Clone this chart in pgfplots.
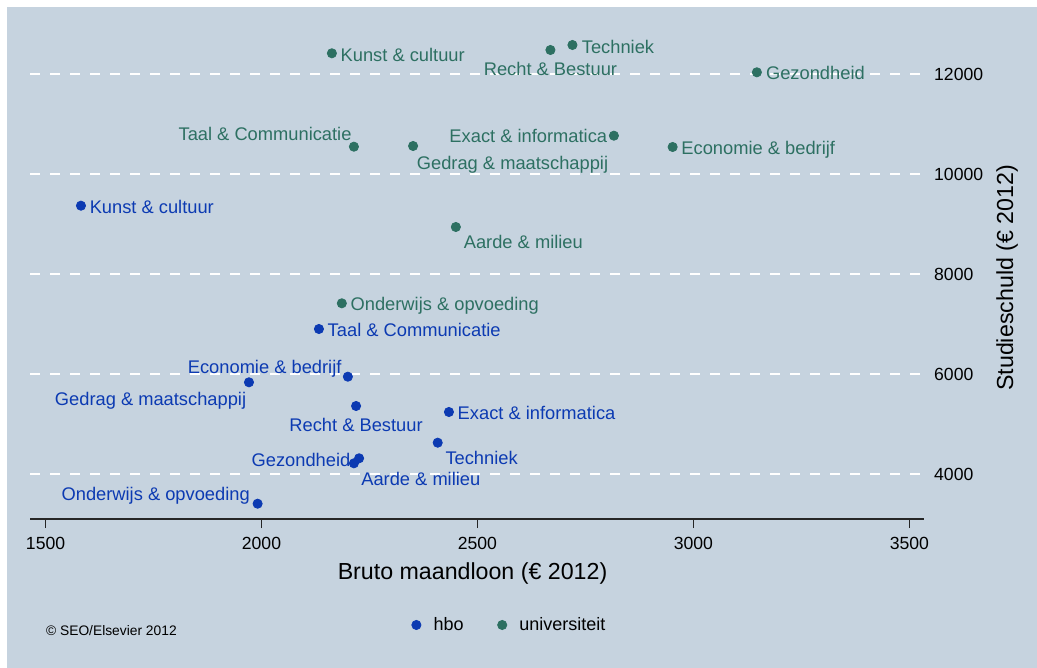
\documentclass[border=0pt]{standalone}
\usepackage{pgfplots}
\pgfplotsset{compat=1.18}
\usepackage{fontspec}
\setmainfont{Liberation Sans}
\definecolor{bg}{RGB}{198,211,223}
\definecolor{hbo}{RGB}{12,58,178}
\definecolor{uni}{RGB}{45,112,98}

\pgfplotsset{
  pt/.style={forget plot, only marks, mark=*, mark size=2.3pt, color=#1,
    mark options={draw=#1, fill=#1},
    every node near coord/.append style={text=#1, inner sep=0pt, font=\fontsize{9.15}{11}\selectfont}},
  lab/.style n args={4}{nodes near coords={#4},
    every node near coord/.append style={anchor=#1, xshift=#2pt, yshift=#3pt}},
}

\begin{document}
\begin{tikzpicture}
\fill[white] (-15pt,-74.5pt) rectangle (503.5pt,259.5pt);
\fill[bg] (-11.5pt,-74.5pt) rectangle (503.5pt,256pt);
\begin{axis}[
  at={(0pt,0pt)}, anchor=south west,
  scale only axis, width=447pt, height=245pt,
  xmin=1464, xmax=3534, ymin=3100, ymax=12900,
  scaled ticks=false,
  axis x line*=bottom, axis y line*=right,
  y axis line style={draw=none},
  x axis line style={black!85, line width=0.7pt},
  xtick={1500,2000,...,3500}, ytick={4000,6000,...,12000},
  xtick style={black!85, line width=0.7pt},
  ytick style={draw=none},
  tick align=outside,
  major tick length=4.5pt,
  ymajorgrids,
  grid style={white, line width=1pt, dash pattern=on 5pt off 5pt},
  /pgf/number format/assume math mode=true,
  /pgf/number format/1000 sep={},
  ticklabel style={font=\fontsize{8.8}{10}\selectfont, text=black},
  xticklabel style={anchor=north, inner sep=0pt},
  xticklabel shift=4.3pt,
  yticklabel style={anchor=west, inner sep=0pt},
  yticklabel shift=0.4pt,
  xlabel={Bruto maandloon (€ 2012)},
  xlabel style={at={(axis description cs:0.495,0)}, anchor=base, yshift=-30pt, font=\fontsize{11.6}{13}\selectfont, inner sep=0pt},
  ylabel={Studieschuld (€ 2012)},
  ylabel style={at={(axis description cs:1.0996,0.492)}, anchor=base, font=\fontsize{11.6}{13}\selectfont, inner sep=0pt},
  clip=false,
  legend columns=2,
  legend cell align=left,
  legend image code/.code={\draw[#1] plot coordinates {(0pt,0pt)};},
  legend style={at={(axis description cs:0.4266,-0.2163)}, anchor=west, draw=none, fill=none, inner sep=0pt,
    font=\fontsize{9}{10}\selectfont,
    nodes={inner sep=0pt},
    /tikz/every odd column/.append style={column sep=6.3pt},
    /tikz/every even column/.append style={column sep=17pt}},
]
\addlegendimage{only marks, mark=*, mark size=2.3pt, color=hbo, mark options={draw=hbo, fill=hbo}}
\addlegendentry{hbo}
\addlegendimage{only marks, mark=*, mark size=2.3pt, color=uni, mark options={draw=uni, fill=uni}}
\addlegendentry{universiteit}
% hbo
\addplot[pt=hbo, lab={base west}{4.2}{-3.9}{Kunst \& cultuur}] coordinates {(1582,9366)};
\addplot[pt=hbo, lab={base west}{4.2}{-3.6}{Taal \& Communicatie}] coordinates {(2133,6900)};
\addplot[pt=hbo, lab={base east}{-3}{1.7}{Economie \& bedrijf}] coordinates {(2200,5946)};
\addplot[pt=hbo, lab={base east}{-1.2}{-11.8}{Gedrag \& maatschappij}] coordinates {(1971,5834)};
\addplot[pt=hbo, lab={base}{0}{-12.8}{Recht \& Bestuur}] coordinates {(2219,5360)};
\addplot[pt=hbo, lab={base west}{4.2}{-4}{Exact \& informatica}] coordinates {(2434,5240)};
\addplot[pt=hbo, lab={base west}{3.7}{-10.8}{Techniek}] coordinates {(2408,4626)};
\addplot[pt=hbo, lab={base east}{-4.2}{-4.2}{Gezondheid}] coordinates {(2226,4314)};
\addplot[pt=hbo, lab={base west}{3.5}{-11.2}{Aarde \& milieu}] coordinates {(2214,4214)};
\addplot[pt=hbo, lab={base east}{-3.7}{1.5}{Onderwijs \& opvoeding}] coordinates {(1991,3406)};
% universiteit
\addplot[pt=uni, lab={base west}{4.2}{-4.2}{Kunst \& cultuur}] coordinates {(2163,12414)};
\addplot[pt=uni, lab={base}{0}{-13}{Recht \& Bestuur}] coordinates {(2669,12480)};
\addplot[pt=uni, lab={base west}{4.5}{-4.1}{Techniek}] coordinates {(2720,12580)};
\addplot[pt=uni, lab={base west}{4.4}{-3.5}{Gezondheid}] coordinates {(3147,12034)};
\addplot[pt=uni, lab={base east}{-1}{3}{Taal \& Communicatie}] coordinates {(2214,10546)};
\addplot[pt=uni, lab={base west}{1.7}{-11.8}{Gedrag \& maatschappij}] coordinates {(2351,10560)};
\addplot[pt=uni, lab={base east}{-3.2}{-3.5}{Exact \& informatica}] coordinates {(2816,10766)};
\addplot[pt=uni, lab={base west}{4.2}{-3.6}{Economie \& bedrijf}] coordinates {(2952,10540)};
\addplot[pt=uni, lab={base west}{3.8}{-10.7}{Aarde \& milieu}] coordinates {(2450,8940)};
\addplot[pt=uni, lab={base west}{4.2}{-3.5}{Onderwijs \& opvoeding}] coordinates {(2186,7414)};
\end{axis}
\node[anchor=base west, inner sep=0pt, font=\fontsize{6.9}{8}\selectfont] at (7.85pt,-58pt) {© SEO/Elsevier 2012};
\pgfresetboundingbox
\path (-15pt,-74.5pt) rectangle (503.5pt,259.5pt);
\end{tikzpicture}
\end{document}
